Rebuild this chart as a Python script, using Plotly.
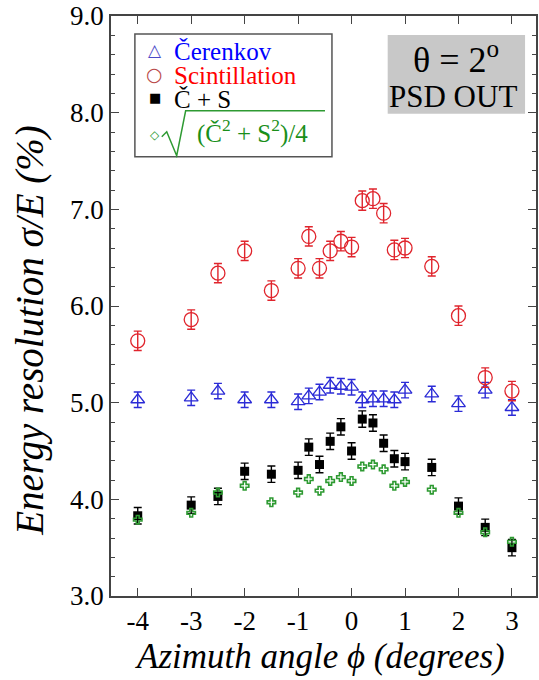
import plotly.graph_objects as go

phi = [-4, -3, -2.5, -2, -1.5, -1, -0.8, -0.6, -0.4, -0.2, 0, 0.2, 0.4, 0.6, 0.8, 1, 1.5, 2, 2.5, 3]

cerenkov = [5.03, 5.05, 5.12, 5.03, 5.03, 5.01, 5.07, 5.11, 5.18, 5.17, 5.16, 5.03, 5.04, 5.04, 5.03, 5.13, 5.09, 4.99, 5.13, 4.95]
scint = [5.64, 5.86, 6.34, 6.57, 6.16, 6.39, 6.72, 6.39, 6.57, 6.67, 6.61, 7.09, 7.11, 6.96, 6.58, 6.60, 6.41, 5.90, 5.26, 5.12]
c_plus_s = [3.83, 3.94, 4.03, 4.29, 4.26, 4.30, 4.54, 4.36, 4.60, 4.75, 4.50, 4.83, 4.79, 4.58, 4.42, 4.39, 4.33, 3.93, 3.71, 3.50]
quad = [3.79, 3.86, 4.07, 4.14, 3.97, 4.07, 4.21, 4.09, 4.19, 4.23, 4.19, 4.34, 4.36, 4.31, 4.14, 4.18, 4.10, 3.86, 3.66, 3.56]

err_c = [0.08] * len(phi)
err_s = [0.10] * len(phi)
err_cs = [0.085] * len(phi)

x_ticks = [-4, -3, -2, -1, 0, 1, 2, 3]
x_ticktext = ["-4", "-3", "-2", "-1", "0", "1", "2", "3"]

legend_labels = ["Čerenkov", "Scintillation", "Č + S", "(Č<sup>2</sup> + S<sup>2</sup>)/4"]
x_title = "Azimuth angle ϕ (degrees)"
y_title = "Energy resolution σ/E (%)"
box_line1 = "θ = 2<sup>o</sup>"
box_line2 = "PSD OUT"

FONT = "Liberation Serif"
GLYPH_FONT = "DejaVu Sans"
BLUE = "#2b2bd6"
RED = "#e0242c"
GREEN = "#2e9a32"

# layout geometry (pixels)
W, H = 539, 680
L, R, T, B = 111, 1, 15, 84
PW, PH = W - L - R, H - T - B


def px(x):
    return (x - L) / PW


def py(y):
    return (H - B - y) / PH


fig = go.Figure()
fig.add_trace(go.Scatter(
    x=phi, y=cerenkov, mode="markers", name=legend_labels[0],
    marker=dict(symbol="triangle-up-open", size=12, color=BLUE, line=dict(width=1.3)),
    error_y=dict(type="data", array=err_c, color=BLUE, thickness=1.4, width=4),
))
fig.add_trace(go.Scatter(
    x=phi, y=scint, mode="markers", name=legend_labels[1],
    marker=dict(symbol="circle-open", size=14, color=RED, line=dict(width=1.3)),
    error_y=dict(type="data", array=err_s, color=RED, thickness=1.4, width=4),
))
fig.add_trace(go.Scatter(
    x=phi, y=c_plus_s, mode="markers", name=legend_labels[2],
    marker=dict(symbol="square", size=9, color="black"),
    error_y=dict(type="data", array=err_cs, color="black", thickness=1.4, width=4),
))
fig.add_trace(go.Scatter(
    x=phi, y=quad, mode="markers", name="sqrt",
    marker=dict(symbol="cross-open", size=7, color=GREEN, line=dict(width=1.6)),
))

shapes = []
# legend frame
shapes.append(dict(type="rect", xref="paper", yref="paper",
                   x0=px(135), x1=px(333), y0=py(156), y1=py(33),
                   line=dict(color="#555555", width=1.5), fillcolor="white", layer="above"))
# radical sign
pts = [(162, 136), (167, 131), (177, 155), (186, 110), (326, 110)]
path = "M " + " L ".join(f"{px(a):.5f},{py(b):.5f}" for a, b in pts)
shapes.append(dict(type="path", xref="paper", yref="paper", path=path,
                   line=dict(color=GREEN, width=1.5), layer="above"))
# theta box
shapes.append(dict(type="rect", xref="paper", yref="paper",
                   x0=px(389), x1=px(527), y0=py(113), y1=py(34),
                   line=dict(width=0), fillcolor="#c8c8c8", layer="above"))

annotations = []
# legend glyphs
glyphs = [("△", "#4a4ac8", 17, 49), ("○", "#b84848", 19, 73), ("■", "black", 13, 97), ("◇", GREEN, 12, 134)]
for g, c, s, yy in glyphs:
    annotations.append(dict(x=px(155), y=py(yy), xref="paper", yref="paper", text=g,
                            showarrow=False, xanchor="center", yanchor="middle",
                            font=dict(family=GLYPH_FONT, size=s, color=c)))
# legend labels
label_specs = [(legend_labels[0], "#0000ff", 172, 51), (legend_labels[1], "#ff0000", 172, 75),
               (legend_labels[2], "black", 172, 99), (legend_labels[3], "#1a8f1a", 195, 131)]
for t, c, xx, yy in label_specs:
    annotations.append(dict(x=px(xx), y=py(yy), xref="paper", yref="paper", text=t,
                            showarrow=False, xanchor="left", yanchor="middle",
                            font=dict(family=FONT, size=25, color=c)))
# theta box text
annotations.append(dict(x=px(458), y=py(57), xref="paper", yref="paper", text=box_line1,
                        showarrow=False, xanchor="center", yanchor="middle",
                        font=dict(family=FONT, size=36, color="black")))
annotations.append(dict(x=px(455), y=py(96), xref="paper", yref="paper", text=box_line2,
                        showarrow=False, xanchor="center", yanchor="middle",
                        font=dict(family=FONT, size=31, color="black")))
# axis titles
annotations.append(dict(x=px(321), y=py(657), xref="paper", yref="paper", text=f"<i>{x_title}</i>",
                        showarrow=False, xanchor="center", yanchor="middle",
                        font=dict(family=FONT, size=35, color="black")))
annotations.append(dict(x=px(30), y=py(330), xref="paper", yref="paper", text=f"<i>{y_title}</i>",
                        showarrow=False, xanchor="center", yanchor="middle", textangle=-90,
                        font=dict(family=FONT, size=39, color="black")))

axis_common = dict(
    showline=True, linecolor="#444444", linewidth=1.5, mirror="ticks",
    ticks="inside", ticklen=8, tickwidth=1.3, tickcolor="#444444",
    showgrid=False, zeroline=False,
    tickfont=dict(family=FONT, size=27, color="black"),
)

fig.update_xaxes(range=[-4.5, 3.45], tickmode="array", tickvals=x_ticks, ticktext=x_ticktext, **axis_common)
fig.update_yaxes(
    range=[3.0, 9.0], dtick=1.0, tickformat=".1f",
    minor=dict(dtick=0.2, ticks="inside", ticklen=4, tickcolor="#444444", tickwidth=1),
    **axis_common,
)

fig.update_layout(
    width=W, height=H,
    margin=dict(l=L, r=R, t=T, b=B),
    paper_bgcolor="white", plot_bgcolor="white",
    font=dict(family=FONT),
    showlegend=False,
    shapes=shapes,
    annotations=annotations,
)

fig.write_html("out.html")
